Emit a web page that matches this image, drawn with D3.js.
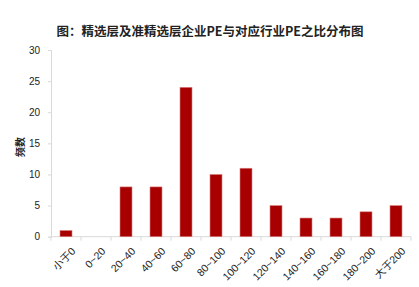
<!DOCTYPE html>
<html><head><meta charset="utf-8">
<script src="https://cdn.jsdelivr.net/npm/d3@7"></script>
<style>body{margin:0;background:#fff}svg{display:block}</style>
</head><body>
<script>
const categories = ["小于0","0~20","20~40","40~60","60~80","80~100","100~120","120~140","140~160","160~180","180~200","大于200"];
const values = [1,0,8,8,24,10,11,5,3,3,4,5];
const yTicks = [0,5,10,15,20,25,30];
const title = "图：精选层及准精选层企业PE与对应行业PE之比分布图";
const yLabel = "频数";

const W=419,H=287;
const svg=d3.select("body").append("svg").attr("width",W).attr("height",H);
const x=d3.scaleBand().domain(categories).range([51,411]).paddingInner(0.6).paddingOuter(0.3);
const xb=d3.scaleBand().domain(categories).range([51,411]);
const y=d3.scaleLinear().domain([0,30]).range([236.7,50]);
const font="'Liberation Sans', Arial, sans-serif";

svg.append("text").attr("x",210).attr("y",35.5).attr("text-anchor","middle")
 .attr("font-family","'Noto Sans CJK SC', sans-serif").attr("font-weight","bold").attr("font-size",12.5).attr("fill","#222").text(title);

// y axis
const ya=svg.append("g").attr("transform","translate(51,0)")
 .call(d3.axisLeft(y).tickValues(yTicks).tickSize(3).tickPadding(8));
ya.select(".domain").attr("stroke","#d9d9d9");
ya.selectAll(".tick line").attr("stroke","#d9d9d9");
ya.selectAll("text").attr("font-family",font).attr("font-size",10).attr("fill","#222");

// x axis
const xa=svg.append("g").attr("transform",`translate(0,${y(0)})`);
xa.append("line").attr("x1",51).attr("x2",411).attr("stroke","#d9d9d9");
xa.selectAll("line.t").data(categories.concat(["_end"])).enter().append("line").attr("class","t")
 .attr("x1",(d,i)=>i<categories.length?xb(d):411).attr("x2",(d,i)=>i<categories.length?xb(d):411)
 .attr("y1",0).attr("y2",4).attr("stroke","#d9d9d9");
xa.selectAll("text").data(categories).enter().append("text")
 .attr("transform",d=>`translate(${xb(d)+xb.bandwidth()/2+5},${10}) rotate(-45)`)
 .attr("text-anchor","end").attr("dy","0.7em")
 .attr("font-family","'Liberation Sans','Noto Sans CJK SC',sans-serif").attr("font-size",10.5).attr("fill","#222").text(d=>d);

svg.append("text").attr("transform","translate(24,147) rotate(-90)").attr("text-anchor","middle")
 .attr("font-family","'Noto Sans CJK SC', sans-serif").attr("font-weight","bold").attr("font-size",10).attr("fill","#222").text(yLabel);

svg.append("g").selectAll("rect").data(values).enter().append("rect")
 .attr("x",(d,i)=>x(categories[i])).attr("width",x.bandwidth())
 .attr("y",d=>y(d)).attr("height",d=>y(0)-y(d))
 .attr("fill","#a80000").attr("stroke","#d98080").attr("stroke-width",0.6);
</script>
</body></html>
